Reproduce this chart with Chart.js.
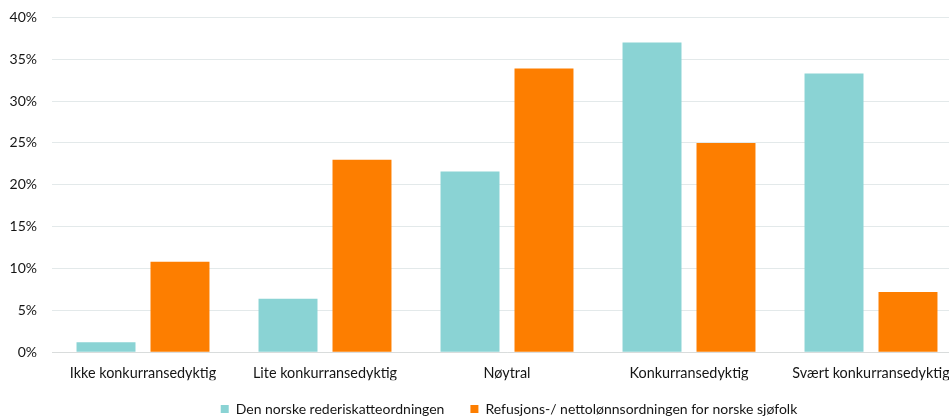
<!DOCTYPE html>
<html>
<head>
<meta charset="utf-8">
<script src="https://cdn.jsdelivr.net/npm/chart.js@4"></script>
<style>
  html, body { margin: 0; padding: 0; background: #fff; overflow: hidden; }
  #wrap { width: 962px; height: 416px; }
</style>
</head>
<body>
<div id="wrap"><canvas id="c" width="962" height="416"></canvas></div>
<script>
const categories = [
  'Ikke konkurransedyktig',
  'Lite konkurransedyktig',
  'Nøytral',
  'Konkurransedyktig',
  'Svært konkurransedyktig'
];
const seriesNames = [
  'Den norske rederiskatteordningen',
  'Refusjons-/ nettolønnsordningen for norske sjøfolk'
];
const rederiskatt = [1.2, 6.4, 21.6, 37.0, 33.3];
const nettolonn = [10.8, 23.0, 33.9, 25.0, 7.2];
const yTicks = [0, 5, 10, 15, 20, 25, 30, 35, 40];

const TEAL = '#8ad3d4';
const ORANGE = '#fd7e00';
const FONT = 'Lato, "Open Sans", sans-serif';
const TEXT = '#151515';

// keep the legend band compact, then place it below the axis labels
const legendTweaks = {
  id: 'legendTweaks',
  afterInit(chart) {
    const lg = chart.legend;
    if (!lg) return;
    const fit = lg.fit.bind(lg);
    lg.fit = function () { fit(); this.height = 35.7; };
  },
  afterLayout(chart) {
    const lg = chart.legend;
    if (!lg) return;
    lg.left += 28; lg.right += 28;
    lg.top = 376; lg.bottom = chart.height;
  }
};

new Chart(document.getElementById('c'), {
  type: 'bar',
  data: {
    labels: categories,
    datasets: [
      { label: seriesNames[0], data: rederiskatt, backgroundColor: TEAL },
      { label: seriesNames[1], data: nettolonn, backgroundColor: ORANGE }
    ]
  },
  plugins: [legendTweaks],
  options: {
    responsive: false,
    animation: false,
    devicePixelRatio: 1,
    layout: { padding: { top: 17.3, left: 0, right: 0, bottom: 0 } },
    datasets: {
      bar: { categoryPercentage: 0.813, barPercentage: 0.797 }
    },
    plugins: {
      tooltip: { enabled: false },
      legend: {
        position: 'bottom',
        labels: {
          font: { family: FONT, size: 14 },
          color: TEXT,
          boxWidth: 8,
          boxHeight: 8,
          padding: 26
        }
      }
    },
    scales: {
      x: {
        grid: { display: false, drawTicks: false },
        border: { display: true, color: '#d9dcdc', width: 1 },
        ticks: {
          font: { family: FONT, size: 14.4 },
          color: TEXT,
          padding: 12,
          maxRotation: 0,
          autoSkip: false
        },
        afterFit(scale) { scale.height = 28; }
      },
      y: {
        min: 0,
        max: 40,
        grid: { color: '#e3e9ea', lineWidth: 1, drawTicks: false },
        border: { display: false },
        afterBuildTicks(scale) {
          scale.ticks = yTicks.map(v => ({ value: v }));
        },
        ticks: {
          font: { family: FONT, size: 14 },
          color: TEXT,
          padding: 15,
          callback: v => v + '%'
        },
        afterFit(scale) {
          scale.width = 52;
          scale.paddingTop = 8;
          scale.paddingBottom = 8;
        }
      }
    }
  }
});
</script>
</body>
</html>
